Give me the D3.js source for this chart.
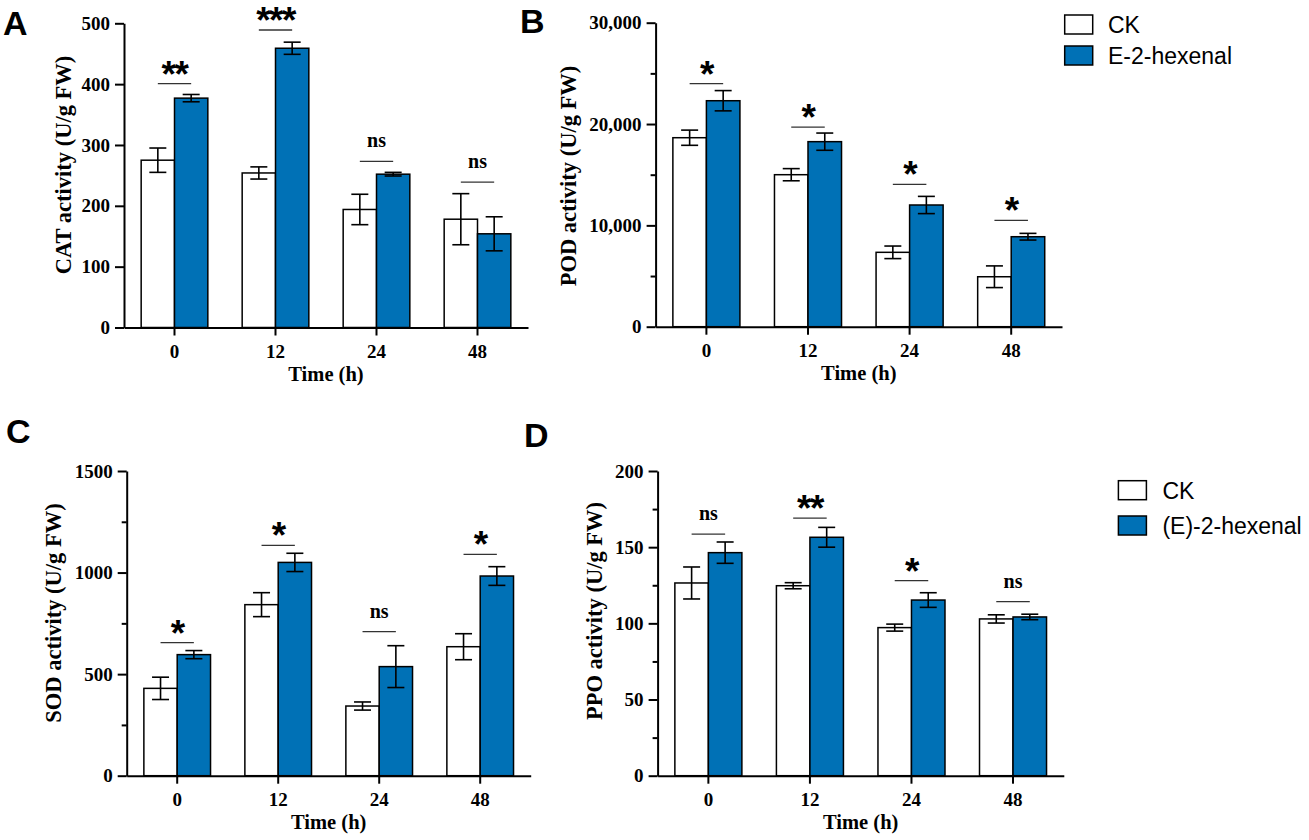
<!DOCTYPE html>
<html>
<head>
<meta charset="utf-8">
<script src="https://cdn.jsdelivr.net/npm/d3@7"></script>
<style>
  html, body { margin: 0; padding: 0; background: #fff; }
  svg { display: block; }
  .tick text { font-family: 'Liberation Serif', 'Times New Roman', serif; font-weight: bold; font-size: 19px; fill: #000; }
</style>
</head>
<body>
<svg id="chart" width="1309" height="840"></svg>
<script>
// ---------------- data ----------------
const times = ["0", "12", "24", "48"];
const seriesB = ["CK", "E-2-hexenal"];
const seriesD = ["CK", "(E)-2-hexenal"];

// A: CAT
const catCK = [275, 254, 194, 178];
const catCKErr = [20, 10, 25, 42];
const catHex = [377, 459, 252, 154];
const catHexErr = [6, 10, 3, 28];
const catSig = ["**", "***", "ns", "ns"];
const catSigY = [401, 489, 273, 239];
const catTicks = [0, 100, 200, 300, 400, 500];
const catMinor = [];

// B: POD
const podCK = [18650, 15000, 7340, 4930];
const podCKErr = [750, 600, 620, 1070];
const podHex = [22300, 18260, 12010, 8880];
const podHexErr = [1000, 850, 850, 330];
const podSig = ["*", "*", "*", "*"];
const podSigY = [23980, 19700, 14050, 10500];
const podTicks = [0, 10000, 20000, 30000];
const podMinor = [5000, 15000, 25000];

// C: SOD
const sodCK = [430, 842, 343, 635];
const sodCKErr = [55, 59, 20, 64];
const sodHex = [596, 1050, 537, 983];
const sodHexErr = [20, 45, 103, 46];
const sodSig = ["*", "*", "ns", "*"];
const sodSigY = [655, 1134, 709, 1090];
const sodTicks = [0, 500, 1000, 1500];
const sodMinor = [250, 750, 1250];

// D: PPO
const ppoCK = [126.5, 124.7, 97.2, 102.9];
const ppoCKErr = [10.5, 2, 2.3, 2.7];
const ppoHex = [146.4, 156.5, 115.3, 104.2];
const ppoHexErr = [7, 6.5, 4.8, 1.8];
const ppoSig = ["ns", "**", "*", "ns"];
const ppoSigY = [158.6, 169.1, 128, 114.2];
const ppoTicks = [0, 50, 100, 150, 200];
const ppoMinor = [25, 75, 125, 175];

// ---------------- drawing ----------------
const svg = d3.select("#chart");
const BLUE = "#0071b6";
const SERIF = "'Liberation Serif', 'Times New Roman', serif";
const SANS = "'Liberation Sans', Arial, Helvetica, sans-serif";

const panels = [
  { letter: "A", lx: 3, ly: 35, x0: 124, x1: 528, yTop: 23.3, yBot: 327.5, max: 500,
    ck: catCK, ckE: catCKErr, hx: catHex, hxE: catHexErr, sig: catSig, sigY: catSigY,
    ticks: catTicks, minor: catMinor, fmt: d3.format("d"),
    title: "CAT activity (U/g FW)", titleX: 71, titleY: 165 },
  { letter: "B", lx: 520, ly: 33, x0: 655.6, x1: 1062, yTop: 22.7, yBot: 326.7, max: 30000,
    ck: podCK, ckE: podCKErr, hx: podHex, hxE: podHexErr, sig: podSig, sigY: podSigY,
    ticks: podTicks, minor: podMinor, fmt: d3.format(","),
    title: "POD activity (U/g FW)", titleX: 576, titleY: 176,
    legend: { names: seriesB, x: 1064.7, y: [15, 46], tx: 1108 } },
  { letter: "C", lx: 6, ly: 443, x0: 126.7, x1: 530.7, yTop: 471, yBot: 775.7, max: 1500,
    ck: sodCK, ckE: sodCKErr, hx: sodHex, hxE: sodHexErr, sig: sodSig, sigY: sodSigY,
    ticks: sodTicks, minor: sodMinor, fmt: d3.format("d"),
    title: "SOD activity (U/g FW)", titleX: 61, titleY: 613 },
  { letter: "D", lx: 524, ly: 447, x0: 657.6, x1: 1063.8, yTop: 471, yBot: 775.7, max: 200,
    ck: ppoCK, ckE: ppoCKErr, hx: ppoHex, hxE: ppoHexErr, sig: ppoSig, sigY: ppoSigY,
    ticks: ppoTicks, minor: ppoMinor, fmt: d3.format("d"),
    title: "PPO activity (U/g FW)", titleX: 601.5, titleY: 611,
    legend: { names: seriesD, x: 1118.4, y: [480.7, 516], tx: 1162.4 } }
];

panels.forEach(p => {
  const g = svg.append("g");
  const x = d3.scaleBand().domain(times).range([p.x0, p.x1]).paddingInner(0).paddingOuter(0);
  const y = d3.scaleLinear().domain([0, p.max]).range([p.yBot, p.yTop]);
  const bw = x.bandwidth() * 0.33;

  const rows = times.map((t, i) => ({ t, i }));

  // bars
  const series = [
    { vals: p.ck, errs: p.ckE, fill: "#ffffff", off: -1 },
    { vals: p.hx, errs: p.hxE, fill: BLUE, off: 0 }
  ];
  series.forEach(s => {
    g.selectAll(null).data(rows).enter().append("rect")
      .attr("x", d => x(d.t) + x.bandwidth() / 2 + s.off * bw)
      .attr("y", d => y(s.vals[d.i]))
      .attr("width", bw)
      .attr("height", d => y(0) - y(s.vals[d.i]))
      .attr("fill", s.fill)
      .attr("stroke", "#000")
      .attr("stroke-width", 1.5);
  });
  // error bars
  series.forEach(s => {
    const cx = d => x(d.t) + x.bandwidth() / 2 + s.off * bw + bw / 2;
    const eg = g.append("g").attr("stroke", "#000").attr("stroke-width", 1.6).attr("fill", "none");
    eg.selectAll(null).data(rows).enter().append("line")
      .attr("x1", cx).attr("x2", cx)
      .attr("y1", d => y(s.vals[d.i] - s.errs[d.i]))
      .attr("y2", d => y(s.vals[d.i] + s.errs[d.i]));
    [-1, 1].forEach(k => {
      eg.selectAll(null).data(rows).enter().append("line")
        .attr("x1", d => cx(d) - 8.5).attr("x2", d => cx(d) + 8.5)
        .attr("y1", d => y(s.vals[d.i] + k * s.errs[d.i]))
        .attr("y2", d => y(s.vals[d.i] + k * s.errs[d.i]));
    });
  });

  // significance
  g.selectAll(null).data(rows).enter().append("line")
    .attr("x1", d => x(d.t) + x.bandwidth() / 2 - bw / 2)
    .attr("x2", d => x(d.t) + x.bandwidth() / 2 + bw / 2)
    .attr("y1", d => y(p.sigY[d.i]))
    .attr("y2", d => y(p.sigY[d.i]))
    .attr("stroke", "#333").attr("stroke-width", 1.3);
  g.selectAll(null).data(rows).enter().append("text")
    .attr("x", d => x(d.t) + x.bandwidth() / 2)
    .attr("y", d => p.sig[d.i] === "ns" ? y(p.sigY[d.i]) - 14 : y(p.sigY[d.i]) + 3)
    .attr("text-anchor", "middle")
    .style("font-family", d => p.sig[d.i] === "ns" ? SERIF : SANS)
    .style("font-weight", "bold")
    .style("font-size", d => p.sig[d.i] === "ns" ? "20px" : "37px")
    .style("letter-spacing", d => p.sig[d.i] === "ns" ? "0px" : "-1.5px")
    .text(d => p.sig[d.i]);

  // y axis
  g.append("g").attr("transform", `translate(${p.x0},0)`)
    .call(d3.axisLeft(y).tickValues(p.ticks).tickFormat(p.fmt).tickSize(9).tickSizeOuter(0).tickPadding(5));
  if (p.minor.length) {
    g.append("g").attr("transform", `translate(${p.x0},0)`)
      .call(d3.axisLeft(y).tickValues(p.minor).tickFormat("").tickSize(5).tickSizeOuter(0))
      .select(".domain").remove();
  }
  // x axis
  const xAxis = g.append("g").attr("transform", `translate(0,${p.yBot})`)
    .call(d3.axisBottom(x).tickSize(8).tickSizeOuter(0).tickPadding(9));
  g.selectAll(".domain, .tick line").attr("stroke", "#000").attr("stroke-width", 2);
  xAxis.selectAll(".tick text").attr("dy", "0.71em");

  // axis titles
  g.append("text")
    .attr("transform", `translate(${p.titleX},${p.titleY}) rotate(-90)`)
    .attr("text-anchor", "middle")
    .style("font-family", SERIF).style("font-weight", "bold").style("font-size", "22.5px")
    .text(p.title);
  g.append("text")
    .attr("x", (p.x0 + p.x1) / 2)
    .attr("y", p.yBot + 53)
    .attr("text-anchor", "middle")
    .style("font-family", SERIF).style("font-weight", "bold").style("font-size", "20.5px")
    .text("Time (h)");

  // panel letter
  svg.append("text").attr("x", p.lx).attr("y", p.ly)
    .style("font-family", SANS).style("font-weight", "bold").style("font-size", "34px")
    .text(p.letter);

  // legend
  if (p.legend) {
    const L = p.legend;
    const fills = ["#ffffff", BLUE];
    L.names.forEach((n, i) => {
      svg.append("rect").attr("x", L.x).attr("y", L.y[i]).attr("width", 28).attr("height", 19)
        .attr("fill", fills[i]).attr("stroke", "#000").attr("stroke-width", 1.5);
      svg.append("text").attr("x", L.tx).attr("y", L.y[i] + 18)
        .style("font-family", SANS).style("font-size", "23px").text(n);
    });
  }
});
</script>
</body>
</html>
